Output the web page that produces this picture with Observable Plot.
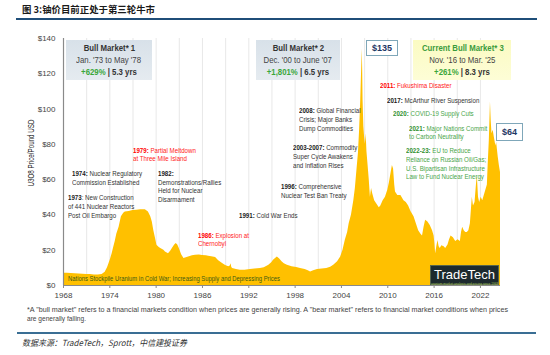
<!DOCTYPE html>
<html><head><meta charset="utf-8">
<script src="https://cdn.jsdelivr.net/npm/d3@7"></script>
<script src="https://cdn.jsdelivr.net/npm/@observablehq/plot@0.6"></script>
<style>
body{margin:0;background:#fff;}
#wrap{position:relative;width:550px;height:355px;overflow:hidden;font-family:"Liberation Sans",Arial,sans-serif;}
#wrap div{box-sizing:border-box;}
.abs{position:absolute;white-space:nowrap;}
</style></head><body><div id="wrap"></div>
<script>
// ---------- data (picture years, USD / lb U3O8) ----------
const years = [1968.0,1968.5,1969.0,1969.5,1970.0,1970.5,1971.0,1971.5,1972.0,1972.5,1973.0,1973.4,1973.7,1973.9,1974.1,1974.3,1974.5,1974.7,1974.9,1975.2,1975.5,1975.8,1976.0,1976.5,1977.0,1977.5,1978.0,1978.6,1979.0,1979.3,1979.5,1979.7,1979.9,1980.1,1980.4,1980.6,1981.0,1981.2,1981.6,1981.9,1982.1,1982.4,1982.6,1982.8,1983.0,1983.3,1983.6,1984.0,1984.2,1984.7,1985.1,1985.6,1986.0,1986.5,1986.8,1987.2,1987.7,1988.1,1988.6,1989.0,1989.4,1989.6,1989.7,1989.8,1989.9,1990.4,1990.9,1991.5,1992.2,1992.8,1993.5,1994.0,1994.6,1995.0,1995.2,1995.5,1995.7,1996.0,1996.3,1996.6,1997.0,1997.6,1998.2,1998.7,1999.3,1999.7,2000.0,2000.4,2000.9,2001.5,2002.1,2002.6,2003.0,2003.5,2003.9,2004.2,2004.5,2004.8,2005.0,2005.3,2005.6,2005.8,2006.0,2006.2,2006.35,2006.5,2006.6,2006.7,2006.75,2006.8,2006.9,2007.0,2007.1,2007.2,2007.3,2007.45,2007.6,2007.75,2007.9,2008.05,2008.3,2008.6,2008.9,2009.1,2009.4,2009.7,2010.0,2010.2,2010.4,2010.6,2010.75,2010.9,2011.0,2011.3,2011.7,2012.1,2012.4,2012.7,2013.0,2013.4,2013.7,2014.0,2014.3,2014.5,2014.7,2014.9,2015.2,2015.5,2015.8,2016.0,2016.1,2016.2,2016.35,2016.5,2016.65,2016.8,2017.0,2017.3,2017.5,2017.8,2018.0,2018.2,2018.5,2018.8,2019.1,2019.4,2019.55,2019.7,2019.9,2020.1,2020.3,2020.5,2020.7,2020.85,2020.95,2021.1,2021.3,2021.5,2021.6,2021.75,2021.9,2022.1,2022.3,2022.5,2022.7,2022.9,2023.0,2023.15,2023.3,2023.4,2023.5,2023.65,2023.8,2024.0,2024.1,2024.3,2024.45,2024.6];
const prices = [7.0,7.0,6.8,6.6,6.5,6.4,6.3,6.2,6.0,6.0,6.3,7.5,10.0,12.5,15.0,18.0,21.5,25.0,29.0,33.0,39.0,41.0,41.7,42.0,42.5,42.7,43.0,43.0,41.7,39.0,36.0,31.0,27.0,22.8,21.5,21.0,20.0,19.0,18.0,19.5,21.0,23.0,23.8,23.0,21.0,17.5,15.3,15.8,16.2,16.8,17.2,17.3,17.0,16.8,16.6,16.3,15.8,14.0,12.5,11.3,10.6,11.0,12.3,10.2,9.7,9.0,8.7,8.6,9.0,9.4,9.6,10.0,11.5,13.0,14.3,15.5,16.2,15.0,13.4,12.3,11.5,10.6,10.2,9.6,9.0,8.3,7.7,8.3,9.0,9.3,9.6,10.3,11.5,13.5,16.2,20.0,25.7,30.0,35.0,40.0,48.0,55.0,65.0,75.0,88.0,105.0,120.0,134.0,122.0,105.0,90.0,84.0,80.0,86.0,76.0,68.0,60.0,50.0,55.0,52.0,48.0,46.0,44.0,45.0,48.0,50.0,54.0,58.0,63.0,68.0,66.0,57.0,53.0,51.0,51.0,48.0,47.0,45.0,42.0,39.0,35.0,31.0,29.0,28.0,33.0,37.0,36.0,34.0,31.0,28.0,24.0,18.0,22.0,25.5,22.0,21.0,22.5,22.0,21.0,23.0,26.0,28.0,27.0,25.0,26.0,25.0,30.0,33.0,31.0,30.0,30.0,31.0,35.0,44.0,50.0,45.0,47.0,58.0,62.0,50.0,47.0,50.0,48.0,51.0,54.0,57.0,68.0,82.0,104.0,93.0,86.0,88.0,84.0,79.0,81.0,73.0,68.0,64.0];
const xTicks = [1968,1974,1980,1986,1992,1998,2004,2010,2016,2022];
const yTicks = [0,20,40,60,80,100,120,140];
const gridYears = [1971,1974,1977,1980,1983,1986,1989,1992,1995,1998,2001,2004,2007,2010,2013,2016,2019,2022];

// ---------- annotations ----------
const noteHead = ["1979:","1974:","1982:","1973","1986:","1991:","1996:","2003-2007:","2008:","2011:","2017:","2020:","2021:","2022-23:"];
const noteLines = [
  [" Partial Meltdown","at Three Mile Island"],
  [" Nuclear Regulatory","Commission Established"],
  ["","Demonstrations/Rallies","Held for Nuclear","Disarmament"],
  [": New Construction","of 441 Nuclear Reactors","Post Oil Embargo"],
  [" Explosion at","Chernobyl"],
  [" Cold War Ends"],
  [" Comprehensive","Nuclear Test Ban Treaty"],
  [" Commodity","Super Cycle Awakens","and Inflation Rises"],
  [" Global Financial","Crisis; Major Banks","Dump Commodities"],
  [" Fukushima Disaster"],
  [" McArthur River Suspension"],
  [" COVID-19 Supply Cuts"],
  [" Major Nations Commit","to Carbon Neutrality"],
  [" EU to Reduce","Reliance on Russian Oil/Gas;","U.S. Bipartisan Infrastructure","Law to Fund Nuclear Energy"]
];
const noteYear  = [1977.07,1969.13,1980.34,1968.69,1985.52,1990.83,1996.2,1997.75,1998.53,2009.06,2009.93,2010.70,2012.85,2012.43];
const notePrice = [78.4,65.2,65.2,51.4,30.2,41.5,57.6,79.7,100.7,115.2,106.7,99.2,90.9,78.0];
const noteKind  = ["red","dark","dark","dark","red","dark","dark","dark","dark","red","dark","green","green","green"];

const bullTitle = ["Bull Market* 1","Bull Market* 2","Current Bull Market* 3"];
const bullDates = ["Jan. '73 to May '78","Dec. '00 to June '07","Nov. '16 to Mar. '25"];
const bullGain  = ["+629%","+1,801%","+261%"];
const bullYears = ["5.3 yrs","6.5 yrs","8.3 yrs"];
const bullX1 = [1968.39,1993.0,2013.33], bullX2 = [1979.53,2003.88,2026.03];
const bullTop = 138.9, bullBottom = 116.2;

const calloutText = ["$135","$64"];
const calloutX1 = [2007.25,2024.08], calloutX2 = [2011.39,2027.58];
const calloutY1 = [138.9,91.8], calloutY2 = [129.8,81.6];

const bandText = "Nations Stockpile Uranium in Cold War; Increasing Supply and Depressing Prices";
const titleText = "图 3:铀价目前正处于第三轮牛市";
const yTitle = "U3O8 Price/Pound USD";
const footLines = ['*A "bull market" refers to a financial markets condition when prices are generally rising. A "bear market" refers to financial market conditions when prices','are generally falling.'];
const sourceText = "数据来源：TradeTech，Sprott，中信建投证券";

// ---------- fonts ----------
const cv = document.createElement("canvas").getContext("2d");
function mw(f, s){ cv.font = "20px " + f; return cv.measureText(s || "Nuclear Regulatory Commission Established").width; }
const mono = mw("monospace");
let NARROW = null;
for (const f of ["Liberation Sans Narrow","Arial Narrow"]) {
  if (Math.abs(mw(`'${f}', monospace`) - mono) > 0.5) { NARROW = f; break; }
}
const fontN = NARROW ? `'${NARROW}', 'Liberation Sans', sans-serif` : "'Liberation Sans', Arial, sans-serif";
const kN = NARROW ? 1 : 0.82;

// ---------- chart ----------
const TOP = 24;
const wrap = document.getElementById("wrap");
const data = years.map((year, i) => ({year, price: prices[i]}));

const chart = Plot.plot({
  width: 550, height: 282,
  marginTop: 14, marginBottom: 21, marginLeft: 63, marginRight: 50,
  x: {domain: [1968, 2024.6]},
  y: {domain: [0, 140]},
  style: {fontFamily: "'Liberation Sans', Arial, sans-serif", fontSize: "8px", color: "#444", background: "transparent", overflow: "visible"},
  marks: [
    Plot.ruleX(gridYears, {stroke: "#e2e2e2", strokeWidth: 0.8}),
    Plot.areaY(data, {x: "year", y: "price", fill: "#FFC000"}),
    Plot.ruleX([1968], {stroke: "#8a8a8a", strokeWidth: 1.2}),
    Plot.ruleY([0], {stroke: "#8a8a8a", strokeWidth: 1}),
    Plot.axisX({ticks: xTicks, tickFormat: d => String(d), tickSize: 3, tickPadding: 4, label: null, stroke: "#8a8a8a", fill: "#444"}),
    Plot.axisY({ticks: yTicks, tickFormat: d => "$" + d, tickSize: 0, tickPadding: 8, label: null, fill: "#444"})
  ]
});
const holder = document.createElement("div");
holder.style.cssText = `position:absolute;left:0;top:${TOP}px;`;
holder.appendChild(chart);
wrap.appendChild(holder);

const xs = chart.scale("x"), ys = chart.scale("y");
const fx = xs.apply ? (v => xs.apply(v)) : d3.scaleLinear(xs.domain, xs.range);
const fy0 = ys.apply ? (v => ys.apply(v)) : d3.scaleLinear(ys.domain, ys.range);
const fy = v => fy0(v) + TOP;

function el(css, html) {
  const e = document.createElement("div");
  e.className = "abs";
  e.style.cssText += css;
  if (html != null) e.innerHTML = html;
  wrap.appendChild(e);
  return e;
}
function fit(e, target) {
  const w = e.getBoundingClientRect().width;
  if (w > 0) { e.style.transformOrigin = "left center"; e.style.transform = `scaleX(${target / w})`; }
}

// title + rule
const t = el(`left:22px;top:3px;font:bold 9.5px 'Noto Sans CJK SC',sans-serif;color:#1a1a1a;line-height:12px;`, titleText);
fit(t, 133);
el(`left:16px;top:18px;width:521px;height:2px;background:#1f4e79;`);

// y title
const yt = el(`left:0;top:0;font:9px ${fontN};color:#222;line-height:10px;`, yTitle);
{
  const w = yt.getBoundingClientRect().width;
  const k = 67 / w;
  yt.style.left = (31 - w / 2) + "px";
  yt.style.top = (153 - 5) + "px";
  yt.style.transform = `rotate(-90deg) scaleX(${k})`;
  yt.style.transformOrigin = "center center";
}

// annotations
const colors = {
  red:   {head: "#ff0000", body: "#ff1a1a"},
  dark:  {head: "#1a1a1a", body: "#333333"},
  green: {head: "#2f8f2f", body: "#4aa64a"}
};
noteHead.forEach((h, i) => {
  const c = colors[noteKind[i]];
  const lines = noteLines[i].map((s, j) => j === 0
    ? `<div><b style="color:${c.head}">${h}</b>${s}</div>`
    : `<div>${s}</div>`).join("");
  el(`left:${fx(noteYear[i])}px;top:${fy(notePrice[i])}px;font:7.5px ${fontN};line-height:8.6px;color:${c.body};transform-origin:left top;transform:scaleX(${kN});`, lines);
});

// cold war band text
const band = el(`left:${fx(1968.65)}px;top:${fy(3.4) - 5}px;font:7.3px ${fontN};line-height:10px;color:#3d5a14;`, bandText);
fit(band, 212);

// bull market boxes
bullTitle.forEach((s, i) => {
  const cur = i === 2;
  const x1 = fx(bullX1[i]), x2 = fx(bullX2[i]);
  const y1 = fy(bullTop), y2 = fy(bullBottom);
  const bg = cur ? "linear-gradient(#fbfbc2,#fdfdd6)" : "linear-gradient(#d8e1e9,#e5ebf0)";
  const sp = (txt) => `<span style="display:inline-block;transform:scaleX(${kN});transform-origin:center">${txt}</span>`;
  el(`left:${x1}px;top:${y1}px;width:${x2 - x1}px;height:${y2 - y1}px;background:${bg};text-align:center;font-family:${fontN};padding-top:2px;`,
    `<div style="font-size:9.5px;line-height:12px;font-weight:bold;color:${cur ? "#3b9b3b" : "#333"};text-decoration:underline;">${sp(s)}</div>` +
    `<div style="font-size:9.5px;line-height:12px;color:#444;">${sp(bullDates[i])}</div>` +
    `<div style="font-size:9.5px;line-height:12px;font-weight:bold;color:#333;">${sp(`<span style="color:#3aa63a">${bullGain[i]}</span> | ${bullYears[i]}`)}</div>`);
});

// price callouts
calloutText.forEach((s, i) => {
  const x1 = fx(calloutX1[i]), x2 = fx(calloutX2[i]);
  const y1 = fy(calloutY1[i]), y2 = fy(calloutY2[i]);
  el(`left:${x1}px;top:${y1}px;width:${x2 - x1}px;height:${y2 - y1}px;background:#fff;border:1px solid #7fa7b9;text-align:center;font:bold 9px 'Liberation Sans',Arial,sans-serif;line-height:${y2 - y1 - 2}px;color:#1f3864;`, s);
});

// TradeTech logo
{
  const x1 = fx(2015.53), x2 = fx(2024.47), y1 = fy(11.3), y2 = fy(0);
  el(`left:${x1}px;top:${y1}px;width:${x2 - x1}px;height:${y2 - y1}px;background:#1d2a2e;border:1px solid #56654c;text-align:center;color:#fff;`,
    `<div style="font:13px 'Liberation Sans',Arial,sans-serif;line-height:15px;margin-top:1px;">TradeTech</div><div style="font:3.2px 'Liberation Sans',sans-serif;color:#9fbf5a;line-height:4px;">uranium market analysis and pricing since 1968</div>`);
}

// footnote
footLines.forEach((s, i) => {
  const e = el(`left:27px;top:${305 + i * 9}px;font:6.6px 'Liberation Sans',Arial,sans-serif;line-height:9px;color:#444;`, s);
  if (i === 0) fit(e, 481);
});

// bottom rule + source
el(`left:17px;top:331.5px;width:519px;height:2px;background:#3a6e94;`);
const src = el(`left:22px;top:337px;font:italic 8.5px 'Noto Sans CJK SC',serif;color:#333;line-height:11px;`, sourceText);
fit(src, 165);
</script></body></html>
